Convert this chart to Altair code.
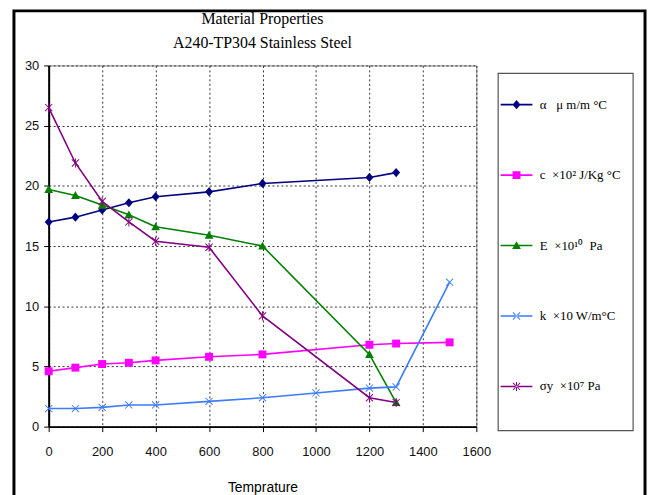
import altair as alt
import pandas as pd

# ---- data ----
NB = "\u00a0"
series_names = [
    "α" + NB * 3 + "μ m/m °C",
    "c" + NB * 2 + "×10² J/Kg °C",
    "E" + NB * 2 + "×10¹⁰" + NB * 2 + "Pa",
    "k" + NB * 2 + "×10 W/m°C",
    "σy" + NB * 2 + "×10⁷ Pa",
]

temp_alpha = [0, 100, 200, 300, 400, 600, 800, 1200, 1300]
alpha_vals = [17.0, 17.4, 18.0, 18.6, 19.1, 19.5, 20.2, 20.7, 21.1]

temp_c = [0, 100, 200, 300, 400, 600, 800, 1200, 1300, 1500]
c_vals = [4.6, 4.9, 5.2, 5.3, 5.5, 5.8, 6.0, 6.8, 6.9, 7.0]

temp_E = [0, 100, 200, 300, 400, 600, 800, 1200, 1300]
E_vals = [19.7, 19.2, 18.4, 17.6, 16.6, 15.9, 15.0, 6.0, 2.0]

temp_k = [0, 100, 200, 300, 400, 600, 800, 1000, 1200, 1300, 1500]
k_vals = [1.5, 1.5, 1.6, 1.8, 1.8, 2.1, 2.4, 2.8, 3.2, 3.3, 12.0]

temp_s = [0, 100, 200, 300, 400, 600, 800, 1200, 1300]
sigma_vals = [26.5, 21.9, 18.7, 17.0, 15.4, 14.9, 9.2, 2.4, 2.0]

x_ticks = [0, 200, 400, 600, 800, 1000, 1200, 1400, 1600]
y_ticks = [0, 5, 10, 15, 20, 25, 30]

# ---- styles ----
colors = ["#000080", "#FF00FF", "#008000", "#3D7BFF", "#800080"]
X_SHAPE = ("M-0.985,-0.815L0.815,0.985L0.985,0.815L-0.815,-0.985Z"
           "M-0.985,0.815L-0.815,0.985L0.985,-0.815L0.815,-0.985Z")
marker_paths = [
    "M0,-1.15L1,0L0,1.15L-1,0Z",
    "M-1,-1H1V1H-1Z",
    "M0,-1.1L1.1,0.9H-1.1Z",
    X_SHAPE,
    X_SHAPE + "M-0.12,-1.15H0.12V1.15H-0.12Z",
]
LINE_SEG = "M-4,-0.2H4V0.2H-4Z"
legend_paths = [LINE_SEG + p for p in marker_paths]

rows = []
for name, xs, ys in zip(series_names,
                        [temp_alpha, temp_c, temp_E, temp_k, temp_s],
                        [alpha_vals, c_vals, E_vals, k_vals, sigma_vals]):
    for xv, yv in zip(xs, ys):
        rows.append({"series": name, "T": xv, "v": yv})
df = pd.DataFrame(rows)

legend_props = dict(
    orient="none", legendX=453, legendY=33, title=None, padding=0,
    symbolSize=64, symbolOffset=12, labelOffset=17, rowPadding=57,
    labelFont="Liberation Serif", labelFontSize=13, labelColor="black",
    labelLimit=200, symbolOpacity=1, symbolStrokeWidth=0,
)

xscale = alt.Scale(domain=[0, 1600], nice=False)
yscale = alt.Scale(domain=[0, 30], nice=False)
color_scale = alt.Scale(domain=series_names, range=colors)
shape_scale = alt.Scale(domain=series_names, range=marker_paths)
legend_shape_scale = alt.Scale(domain=series_names, range=legend_paths)

x_enc = alt.X("T:Q", scale=xscale,
              axis=alt.Axis(values=x_ticks, title="Temprature", format="d"))
y_enc = alt.Y("v:Q", scale=yscale, axis=alt.Axis(values=y_ticks, title=None))

base = alt.Chart(df)

lines = base.mark_line(strokeWidth=1.6).encode(
    x=x_enc, y=y_enc,
    color=alt.Color("series:N", scale=color_scale, legend=None),
    order="T:Q",
)

points = base.mark_point(filled=True, size=64, opacity=1).encode(
    x=x_enc, y=y_enc,
    color=alt.Color("series:N", scale=color_scale, legend=None),
    shape=alt.Shape("series:N", scale=shape_scale, legend=None),
)

# layer that only feeds the legend (draws nothing in the plot)
legend_layer = base.transform_filter("datum.T < 0").mark_point(
    filled=True, size=64, opacity=1
).encode(
    x=x_enc, y=y_enc,
    color=alt.Color("series:N", scale=color_scale, legend=alt.Legend(**legend_props)),
    shape=alt.Shape("series:N", scale=legend_shape_scale, legend=alt.Legend(**legend_props)),
)

deco = pd.DataFrame({"d": [0]})
outer_frame = alt.Chart(deco).mark_rect(
    filled=False, stroke="black", strokeWidth=3, clip=False
).encode(x=alt.value(-35), x2=alt.value(601), y=alt.value(-55), y2=alt.value(470))

legend_box = alt.Chart(deco).mark_rect(
    filled=False, stroke="#555555", strokeWidth=1.2, clip=False
).encode(x=alt.value(453), x2=alt.value(589), y=alt.value(8), y2=alt.value(368))

chart = alt.layer(
    outer_frame, legend_box, lines, points, legend_layer
).resolve_scale(shape="independent", color="independent").properties(
    width=431, height=364,
    padding={"left": 41, "top": 56, "right": 172, "bottom": 67},
    autosize=alt.AutoSizeParams(type="none"),
    title=alt.TitleParams(
        ["Material Properties", "A240-TP304 Stainless Steel"],
        font="Liberation Serif", fontSize=16, fontWeight="normal",
        color="black", anchor="middle", frame="group", offset=0, dy=42,
        lineHeight=24,
    ),
).configure_view(
    stroke="#888888", strokeWidth=1
).configure_axis(
    domainColor="black", domainWidth=2, tickColor="black", tickSize=5,
    labelFont="Liberation Sans", labelFontSize=13, labelColor="#111111",
    labelFlush=False,
    gridColor="#333333", gridDash=[2, 2.5], gridWidth=1,
    titleFont="Liberation Sans", titleFontSize=14, titleFontWeight="normal",
    titleColor="black",
).configure_axisX(
    labelPadding=14, titlePadding=22,
).configure_axisY(
    labelPadding=5,
)

chart.save("out.html", embed_options={"renderer": "svg", "actions": False})
